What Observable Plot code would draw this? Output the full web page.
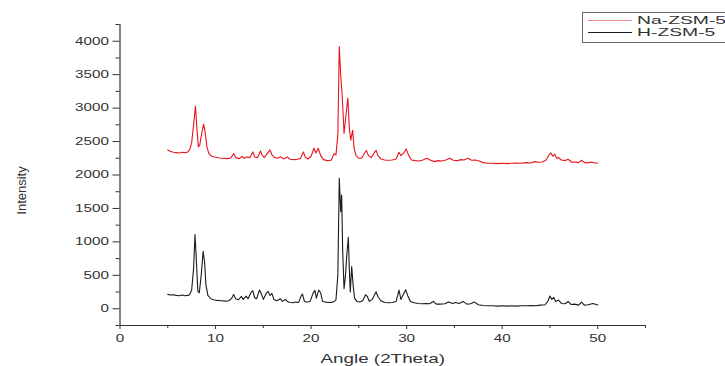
<!DOCTYPE html>
<html><head><meta charset="utf-8">
<script src="https://cdn.jsdelivr.net/npm/d3@7"></script>
<script src="https://cdn.jsdelivr.net/npm/@observablehq/plot@0.6"></script>
<style>
body{margin:0;background:#fff;overflow:hidden;}
#wrap{position:relative;width:725px;height:366px;overflow:hidden;background:#fff;}
#legend{position:absolute;left:582px;top:12px;width:170px;height:29px;border:1px solid #666;background:#fff;font-family:"Liberation Sans",Arial,sans-serif;font-size:11.5px;line-height:12px;color:#333;}
.row{position:absolute;left:0;height:12px;display:flex;align-items:center;white-space:nowrap;}
.sw{width:44px;height:0;border-top:1px solid;margin-left:5px;margin-right:5px;flex:none;}
.lt{display:inline-block;transform:scaleX(1.68);transform-origin:0 50%;}
</style></head><body><div id="wrap"></div>
<script>
// Series names
const seriesNames = ["Na-ZSM-5", "H-ZSM-5"];
// Na-ZSM-5 (red)
const naAngle = [5.0,5.3,5.6,5.9,6.2,6.5,6.8,7.1,7.3,7.5,7.7,7.9,8.05,8.2,8.35,8.55,8.75,8.9,9.1,9.3,9.6,10.0,10.4,10.8,11.2,11.6,11.9,12.1,12.5,12.8,13.0,13.3,13.6,13.9,14.1,14.4,14.7,14.9,15.1,15.4,15.7,15.9,16.2,16.5,16.8,17.1,17.5,17.8,18.2,18.6,18.9,19.2,19.4,19.7,20.0,20.3,20.5,20.75,21.0,21.3,21.7,22.1,22.4,22.6,22.8,22.95,23.1,23.25,23.45,23.65,23.85,24.0,24.15,24.35,24.5,24.7,25.0,25.3,25.6,25.8,26.0,26.3,26.6,26.8,27.0,27.3,27.7,28.1,28.5,28.9,29.2,29.4,29.7,29.95,30.2,30.5,30.9,31.3,31.7,32.1,32.5,32.9,33.3,33.7,34.1,34.5,34.9,35.3,35.7,36.0,36.4,36.8,37.2,37.6,38.0,38.5,39.0,39.5,40.0,40.5,41.0,41.5,42.0,42.5,43.0,43.4,43.8,44.2,44.6,44.9,45.1,45.3,45.5,45.7,45.9,46.2,46.6,46.9,47.3,47.7,48.0,48.3,48.7,49.0,49.4,49.7,50.0];
const naIntensity = [2375,2350,2340,2335,2330,2340,2335,2345,2380,2480,2750,3030,2700,2420,2450,2620,2760,2650,2420,2320,2280,2265,2255,2250,2245,2255,2320,2260,2245,2280,2250,2270,2260,2345,2270,2260,2360,2290,2260,2320,2375,2300,2260,2250,2275,2240,2270,2235,2230,2235,2250,2345,2260,2240,2280,2400,2330,2400,2290,2230,2215,2220,2320,2300,2600,3920,3500,3200,2620,2900,3150,2700,2520,2670,2400,2290,2250,2250,2330,2365,2290,2260,2330,2370,2290,2240,2225,2220,2225,2240,2340,2290,2330,2390,2300,2225,2215,2210,2225,2250,2220,2200,2215,2210,2225,2250,2220,2215,2230,2225,2250,2220,2225,2210,2185,2175,2175,2170,2175,2170,2175,2180,2175,2185,2180,2200,2190,2195,2225,2300,2330,2280,2310,2250,2260,2225,2215,2235,2190,2195,2185,2220,2180,2185,2190,2180,2180];
// H-ZSM-5 (black)
const hAngle = [5.0,5.3,5.6,5.9,6.2,6.5,6.8,7.1,7.3,7.5,7.7,7.85,8.0,8.15,8.3,8.5,8.7,8.85,9.0,9.2,9.5,9.8,10.2,10.6,11.0,11.4,11.7,11.9,12.1,12.4,12.7,12.9,13.2,13.4,13.7,13.9,14.1,14.3,14.6,14.8,15.0,15.3,15.5,15.7,15.9,16.1,16.4,16.8,17.0,17.3,17.5,17.8,18.1,18.4,18.7,18.95,19.1,19.3,19.6,19.9,20.2,20.4,20.55,20.8,21.0,21.2,21.5,21.9,22.3,22.6,22.8,22.95,23.1,23.2,23.3,23.45,23.6,23.75,23.9,24.0,24.1,24.25,24.4,24.55,24.8,25.1,25.4,25.7,25.9,26.1,26.4,26.8,27.0,27.3,27.7,28.1,28.5,28.9,29.2,29.4,29.6,29.9,30.1,30.4,30.8,31.2,31.6,32.0,32.4,32.8,33.1,33.5,34.0,34.4,34.8,35.1,35.5,35.9,36.3,36.7,37.1,37.5,38.0,38.5,39.0,39.5,40.0,40.5,41.0,41.5,42.0,42.5,43.0,43.5,44.0,44.5,44.8,45.0,45.2,45.4,45.6,45.9,46.2,46.6,46.9,47.2,47.6,48.0,48.3,48.6,49.0,49.5,50.0];
const hIntensity = [215,205,210,200,195,205,195,200,215,280,600,1110,700,260,240,500,860,700,350,200,150,135,125,120,115,120,160,215,150,135,185,140,190,150,240,270,160,150,280,220,140,230,260,200,230,140,120,150,110,140,110,95,90,100,95,190,220,110,100,110,230,275,160,280,240,110,100,95,100,130,500,1950,1450,1700,900,300,500,830,1070,600,250,630,350,160,110,100,120,210,180,110,140,255,180,120,95,90,95,110,280,140,200,285,200,110,90,80,75,80,75,110,70,70,75,100,80,95,80,110,70,75,100,60,50,45,45,40,45,40,45,40,45,45,50,45,55,60,120,190,140,170,110,130,80,75,110,65,70,55,100,55,60,80,55];
const seriesColors = ["#e8141c", "#1a1a1a"];
const legendSwatch = ["#eb8c8c", "#1a1a1a"];
// Axis ticks
const xMajor = [0,10,20,30,40,50];
const xMinor = [5,15,25,35,45,55];
const yMajor = [0,500,1000,1500,2000,2500,3000,3500,4000];
const yMinor = [-250,250,750,1250,1750,2250,2750,3250,3750,4250];
const xTitle = "Angle (2Theta)";
const yTitle = "Intensity";

const na = naAngle.map((a,i)=>({angle:a, intensity:naIntensity[i]}));
const h = hAngle.map((a,i)=>({angle:a, intensity:hIntensity[i]}));

const ink = "#333";
const chart = Plot.plot({
  width:725, height:366,
  marginLeft:119.5, marginRight:80, marginTop:24, marginBottom:41,
  x:{domain:[0,55]},
  y:{domain:[-250,4250]},
  style:"font-family:'Liberation Sans',Arial,sans-serif;background:#fff;",
  marks:[
    Plot.axisY({ticks:yMajor, tickSize:7, tickPadding:4, tickFormat:d3.format("d"), label:null, fontSize:10.5, color:ink}),
    Plot.axisY({ticks:yMinor, tickSize:4, tickFormat:()=>"", label:null, color:ink}),
    Plot.axisX({ticks:xMajor, tickSize:4, tickPadding:5, tickFormat:d3.format("d"), label:null, fontSize:10.5, color:ink}),
    Plot.axisX({ticks:xMinor, tickSize:3, tickFormat:()=>"", label:null, color:ink}),
    Plot.ruleX([0], {stroke:ink, strokeWidth:1.2}),
    Plot.ruleY([-250], {stroke:ink, strokeWidth:1.2}),
    Plot.line(na, {x:"angle", y:"intensity", stroke:seriesColors[0], strokeWidth:1.1}),
    Plot.line(h, {x:"angle", y:"intensity", stroke:seriesColors[1], strokeWidth:1.1}),
    Plot.text([xTitle], {frameAnchor:"bottom", dy:33, fontSize:13, fill:ink, textAnchor:"middle", lineAnchor:"middle"}),
    Plot.text([yTitle], {frameAnchor:"left", dx:-98, dy:15.5, rotate:-90, fontSize:13, fill:ink, textAnchor:"middle", lineAnchor:"middle"})
  ]
});
const wrap = document.getElementById("wrap");
wrap.appendChild(chart);

// widen glyphs horizontally like the reference (except the rotated y title)
const NS = "http://www.w3.org/2000/svg";
Array.from(chart.querySelectorAll("text")).forEach(t=>{
  if (t.textContent === yTitle || t.textContent.trim() === "") return;
  const g = document.createElementNS(NS, "g");
  t.parentNode.insertBefore(g, t);
  g.appendChild(t);
  const bb = g.getBBox();
  const anchor = getComputedStyle(t).textAnchor;
  const ax = anchor === "end" ? bb.x + bb.width : anchor === "middle" ? bb.x + bb.width/2 : bb.x;
  g.setAttribute("transform", `translate(${ax},0) scale(1.45,1) translate(${-ax},0)`);
});

const legend = document.createElement("div");
legend.id = "legend";
seriesNames.forEach((name,i)=>{
  const row = document.createElement("div");
  row.className = "row";
  row.style.top = (i===0 ? 1 : 13) + "px";
  const sw = document.createElement("span");
  sw.className = "sw";
  sw.style.borderTopColor = legendSwatch[i];
  const t = document.createElement("span");
  t.className = "lt";
  t.textContent = name;
  row.appendChild(sw); row.appendChild(t);
  legend.appendChild(row);
});
wrap.appendChild(legend);
</script>
</body></html>
